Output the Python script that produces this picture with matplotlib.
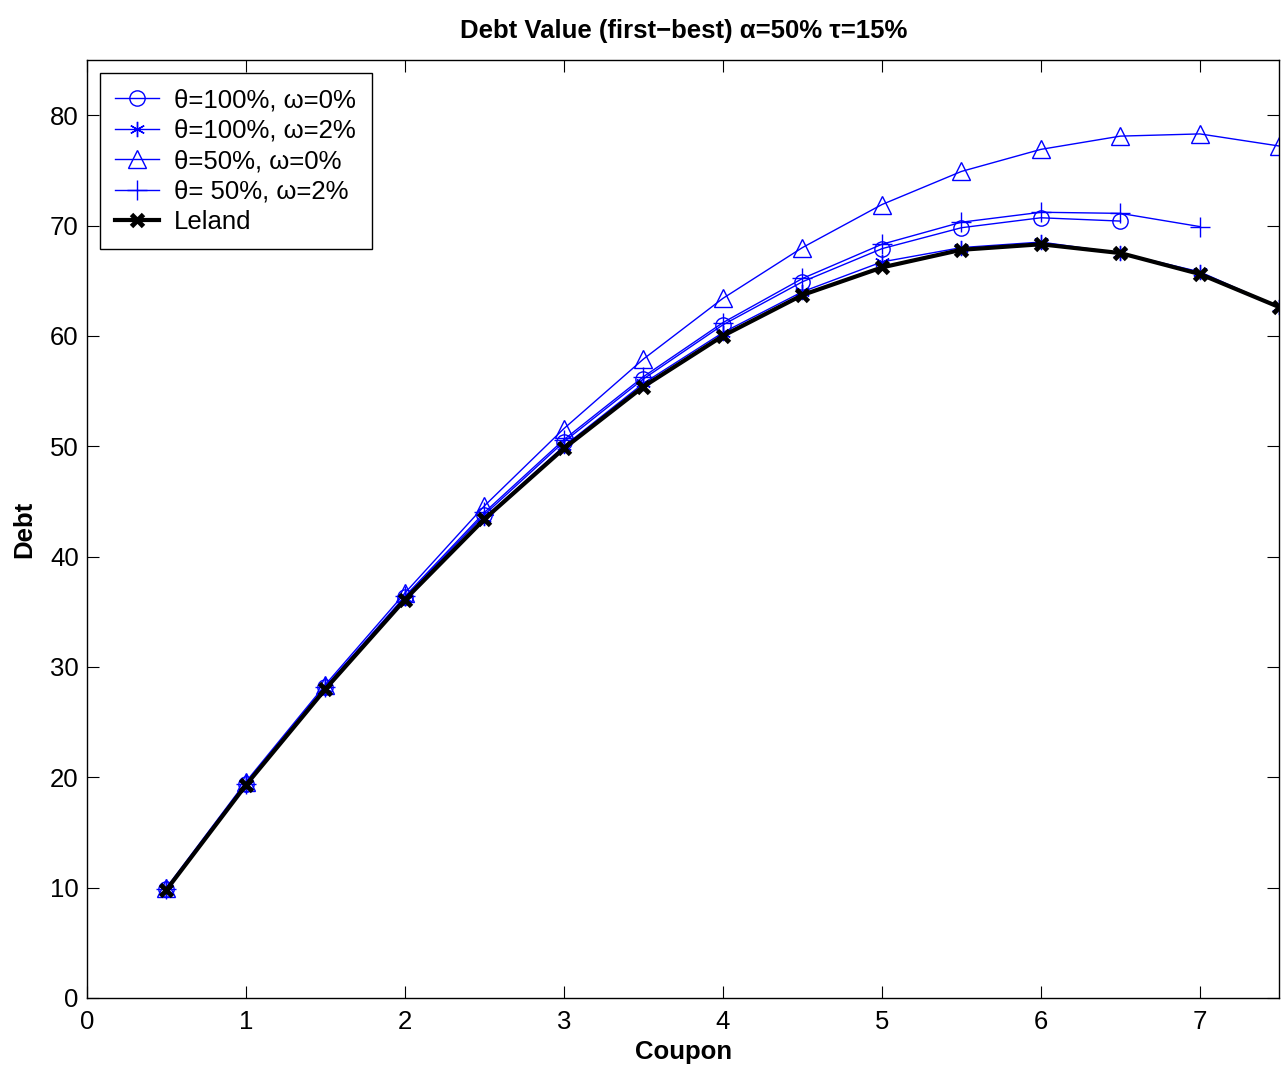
import matplotlib
matplotlib.use("Agg")
import matplotlib.pyplot as plt

plt.rcParams['font.family'] = ['Liberation Sans', 'DejaVu Sans']

coupon = [0.5, 1, 1.5, 2, 2.5, 3, 3.5, 4, 4.5, 5, 5.5, 6, 6.5, 7, 7.5]
leland = [9.8, 19.3, 28.0, 36.1, 43.4, 49.8, 55.4, 60.0, 63.7, 66.2, 67.8, 68.3, 67.5, 65.6, 62.6]
th100_w2 = [9.8, 19.3, 28.1, 36.2, 43.5, 50.0, 55.7, 60.3, 64.0, 66.7, 68.0, 68.5, 67.5, 65.8, 62.6]
th100_w0 = [9.9, 19.4, 28.2, 36.3, 43.8, 50.4, 56.1, 61.0, 64.9, 67.9, 69.8, 70.7, 70.4]
th50_w2 = [9.9, 19.4, 28.2, 36.4, 44.0, 50.6, 56.3, 61.2, 65.2, 68.3, 70.3, 71.2, 71.1, 69.9]
th50_w0 = [10.0, 19.6, 28.4, 36.7, 44.6, 51.6, 57.9, 63.4, 68.0, 71.9, 74.9, 76.9, 78.1, 78.3, 77.2]

labels = ['θ=100%, ω=0%', 'θ=100%, ω=2%', 'θ=50%, ω=0%', 'θ= 50%, ω=2%', 'Leland']
title = 'Debt Value (first−best) α=50% τ=15%'
xticks = [0, 1, 2, 3, 4, 5, 6, 7]
yticks = [0, 10, 20, 30, 40, 50, 60, 70, 80]

fig = plt.figure(figsize=(12.87, 10.71), dpi=100)
ax = fig.add_axes([0.0676, 0.0682, 0.9265, 0.8758])

blue = '#0000ff'
ax.plot(coupon[:len(th100_w0)], th100_w0, color=blue, lw=1.0, marker='o', ms=11,
        mfc='none', mec=blue, mew=1.0, label=labels[0])
ax.plot(coupon[:len(th100_w2)], th100_w2, color=blue, lw=1.0, marker=(6, 2, 0), ms=11,
        mec=blue, mew=1.0, label=labels[1])
ax.plot(coupon[:len(th50_w0)], th50_w0, color=blue, lw=1.0, marker='^', ms=13,
        mfc='none', mec=blue, mew=1.0, label=labels[2])
ax.plot(coupon[:len(th50_w2)], th50_w2, color=blue, lw=1.0, marker='+', ms=15,
        mec=blue, mew=1.0, label=labels[3])
ax.plot(coupon, leland, color='black', lw=3.0, marker='x', ms=9, mew=3.5,
        label=labels[4])

ax.set_xlim(0, 7.5)
ax.set_ylim(0, 85)
ax.set_xticks(xticks)
ax.set_yticks(yticks)
ax.tick_params(direction='in', length=8.5, width=0.8, top=True, right=True,
               labelsize=18.5, pad=6)
ax.tick_params(axis='x', pad=9)
for s in ax.spines.values():
    s.set_linewidth(1.0)

ax.set_title(title, fontsize=18.5, fontweight='bold', pad=16)
ax.set_xlabel('Coupon', fontsize=18.5, fontweight='bold', labelpad=4)
ax.set_ylabel('Debt', fontsize=18.5, fontweight='bold', labelpad=10)

leg = ax.legend(loc='upper left', fontsize=18.5, frameon=True, fancybox=False,
                edgecolor='black', framealpha=1, borderpad=0.6, labelspacing=0.25,
                handlelength=1.72, handletextpad=0.58, borderaxespad=0.5)
leg.get_frame().set_linewidth(1.0)

fig.savefig('out.png', dpi=100)
